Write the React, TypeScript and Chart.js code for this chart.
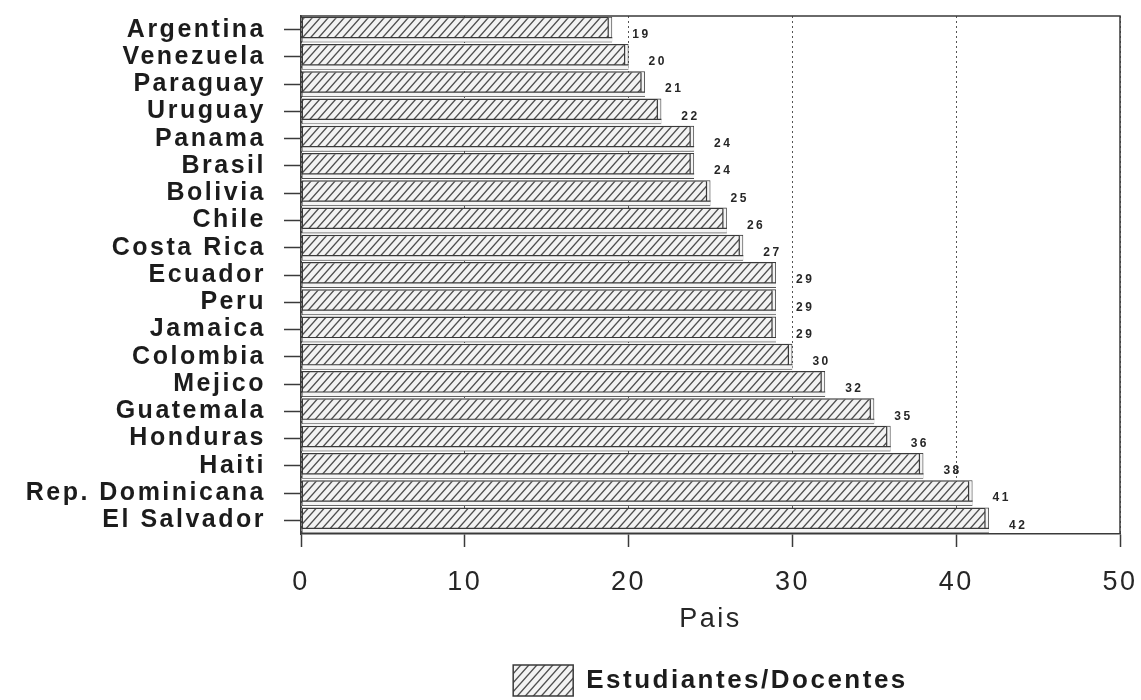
import React, { useEffect, useRef } from "react";
import { Chart, registerables } from "chart.js";

Chart.register(...registerables);

const countries = [
  "Argentina",
  "Venezuela",
  "Paraguay",
  "Uruguay",
  "Panama",
  "Brasil",
  "Bolivia",
  "Chile",
  "Costa Rica",
  "Ecuador",
  "Peru",
  "Jamaica",
  "Colombia",
  "Mejico",
  "Guatemala",
  "Honduras",
  "Haiti",
  "Rep. Dominicana",
  "El Salvador",
];
const ratios = [19, 20, 21, 22, 24, 24, 25, 26, 27, 29, 29, 29, 30, 32, 35, 36, 38, 41, 42];
const xMin = 0;
const xMax = 50;
const xStep = 10;
const seriesLabel = "Estudiantes/Docentes";
const axisTitle = "Pais";

const FAMILY = "'Liberation Sans', Arial, Helvetica, sans-serif";
const INK = "#262626";
const LINE = "#3a3a3a";

function makeHatch(ctx: CanvasRenderingContext2D) {
  const w = 8;
  const h = 9;
  const c = document.createElement("canvas");
  c.width = w;
  c.height = h;
  const g = c.getContext("2d")!;
  g.fillStyle = "#f3f3f3";
  g.fillRect(0, 0, w, h);
  g.strokeStyle = "#505050";
  g.lineWidth = 1.4;
  g.beginPath();
  g.moveTo(-w, 2 * h);
  g.lineTo(2 * w, -h);
  g.moveTo(-2 * w, 2 * h);
  g.lineTo(w, -h);
  g.moveTo(0, 2 * h);
  g.lineTo(3 * w, -h);
  g.stroke();
  return ctx.createPattern(c, "repeat")!;
}

const spacingPlugin = {
  id: "letterSpacing",
  beforeUpdate(chart: any) {
    chart.ctx.letterSpacing = "2.5px";
  },
  beforeDraw(chart: any) {
    chart.ctx.letterSpacing = "2.5px";
  },
};

const framePlugin = {
  id: "frame",
  beforeDatasetsDraw(chart: any) {
    const { ctx, chartArea } = chart;
    ctx.save();
    ctx.strokeStyle = LINE;
    ctx.lineWidth = 1.5;
    ctx.beginPath();
    ctx.moveTo(chartArea.left, chartArea.top);
    ctx.lineTo(chartArea.right, chartArea.top);
    ctx.lineTo(chartArea.right, chartArea.bottom);
    ctx.stroke();
    ctx.restore();
  },
};

const shadePlugin = {
  id: "barShade",
  afterDatasetsDraw(chart: any) {
    const { ctx } = chart;
    const meta = chart.getDatasetMeta(0);
    ctx.save();
    meta.data.forEach((bar: any, i: number) => {
      const { x, y, base, height } = bar.getProps(["x", "y", "base", "height"], true);
      const top = y - height / 2;
      const bottom = y + height / 2;
      const strip = 5;
      ctx.fillStyle = "#f4f4f4";
      ctx.fillRect(base + 1, bottom - strip, x - base - 1, strip - 0.8);
      ctx.fillRect(x - 4, top + 1, 3.2, height - strip - 1);
      ctx.strokeStyle = LINE;
      ctx.lineWidth = 1.2;
      ctx.beginPath();
      ctx.moveTo(base, bottom - strip);
      ctx.lineTo(x, bottom - strip);
      ctx.moveTo(x - 4, top + 1);
      ctx.lineTo(x - 4, bottom - strip);
      ctx.stroke();
      // value label
      ctx.fillStyle = INK;
      ctx.font = `bold 12px ${FAMILY}`;
      ctx.textAlign = "left";
      ctx.textBaseline = "middle";
      ctx.fillText(String(ratios[i]), x + 20, y + 5);
    });
    ctx.restore();
  },
};

export default function App() {
  const ref = useRef<HTMLCanvasElement | null>(null);

  useEffect(() => {
    const canvas = ref.current;
    if (!canvas) return;
    const ctx = canvas.getContext("2d")!;
    const hatch = makeHatch(ctx);

    const chart = new Chart(canvas, {
      type: "bar",
      data: {
        labels: countries,
        datasets: [
          {
            label: seriesLabel,
            data: ratios,
            backgroundColor: hatch as any,
            borderColor: LINE,
            borderWidth: 1.5,
            borderSkipped: false,
            categoryPercentage: 1,
            barPercentage: 0.95,
          },
        ],
      },
      options: {
        indexAxis: "y",
        responsive: true,
        maintainAspectRatio: false,
        animation: false,
        layout: { padding: { top: 16, right: 21, bottom: -6, left: 0 } },
        scales: {
          x: {
            min: xMin,
            max: xMax,
            ticks: {
              stepSize: xStep,
              padding: 19,
              color: INK,
              font: { family: FAMILY, size: 27 },
            },
            grid: {
              color: "#555",
              lineWidth: 1,
              tickColor: LINE,
              tickWidth: 1.5,
              tickLength: 13,
              tickBorderDash: [],
            },
            border: { display: true, color: LINE, width: 1.5, dash: [2, 3] },
            title: {
              display: true,
              text: axisTitle,
              color: INK,
              font: { family: FAMILY, size: 27 },
              padding: { top: 0, bottom: 25 },
            },
            afterFit: (s: any) => {
              s.height = 127;
              s.paddingLeft = 0;
              s.paddingRight = 0;
            },
          },
          y: {
            grid: {
              offset: false,
              drawOnChartArea: false,
              drawTicks: true,
              tickLength: 17,
              color: LINE,
              tickColor: LINE,
              tickWidth: 1.5,
            },
            border: { display: true, color: LINE, width: 1.5 },
            ticks: {
              autoSkip: false,
              padding: 18,
              color: "#1c1c1c",
              font: { family: FAMILY, size: 25, weight: "bold" },
            },
            afterFit: (s: any) => {
              s.width = 301;
              s.paddingTop = 0;
              s.paddingBottom = 0;
            },
          },
        },
        plugins: {
          tooltip: { enabled: false },
          legend: {
            position: "bottom",
            fullSize: false,
            labels: {
              boxWidth: 60,
              boxHeight: 31,
              padding: 4,
              color: "#1c1c1c",
              font: { family: FAMILY, size: 26, weight: "bold" },
            },
          },
        },
      },
      plugins: [spacingPlugin, framePlugin, shadePlugin],
    } as any);

    return () => chart.destroy();
  }, []);

  return (
    <div
      style={{
        position: "fixed",
        left: 0,
        top: 0,
        width: 1141,
        height: 700,
        background: "#fff",
      }}
    >
      <canvas ref={ref} />
    </div>
  );
}
